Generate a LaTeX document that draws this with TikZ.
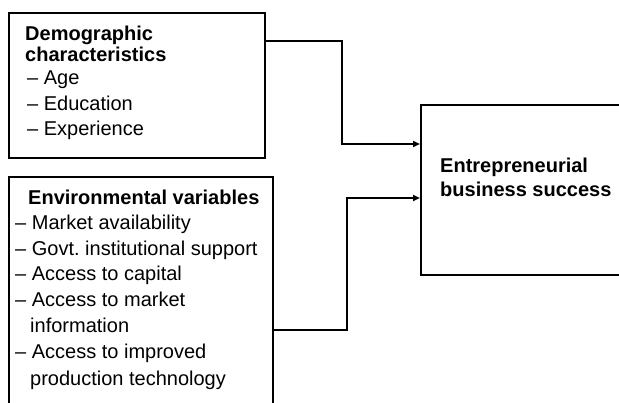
\documentclass[tikz,border=0pt]{standalone}
\usepackage{fontspec}
\setmainfont{Liberation Sans}
\usetikzlibrary{arrows.meta}
\frenchspacing
\begin{document}
\begin{tikzpicture}[x=1pt,y=-1pt,
  frame/.style={draw,line width=1.9pt},
  link/.style={line width=2.3pt,-{Triangle[length=7pt,width=6pt]}},
  txt/.style={anchor=base west,inner sep=0pt,font=\fontsize{20}{23}\selectfont},
  head/.style={txt,font=\fontsize{20}{23}\selectfont\bfseries}]
\useasboundingbox (0,0) rectangle (619,402);
\clip (0,0) rectangle (619,402);
% boxes
\coordinate (d1) at (9,13);   \coordinate (d2) at (265,158);
\draw[frame] (d1) rectangle (d2);
\coordinate (e1) at (9,177);  \coordinate (e2) at (273,420);
\draw[frame] (e1) rectangle (e2);
\coordinate (s1) at (421,105); \coordinate (s2) at (640,275);
\draw[frame] (s1) rectangle (s2);
% texts of the first box
\node[head] (dh1) at (25,40) {Demographic};
\node[head] (dh2) at (25,61) {characteristics};
\node[txt] (da) at (27,84) {– Age};
\node[txt] (db) at (27,110) {– Education};
\node[txt] (dc) at (27,135) {– Experience};
% texts of the second box
\node[head] (eh) at (28,204) {Environmental variables};
\node[txt] (ea) at (15,229) {– Market availability};
\node[txt] (eb) at (15,255) {– Govt. institutional support};
\node[txt] (ec) at (15,280) {– Access to capital};
\node[txt] (ed) at (15,306) {– Access to market};
\node[txt] (ed2) at (30,332) {information};
\node[txt] (ee) at (15,358) {– Access to improved};
\node[txt] (ee2) at (30,385) {production technology};
% outcome text
\node[head] (sh1) at (440,172) {Entrepreneurial};
\node[head] (sh2) at (440,196) {business success};
% connectors
\coordinate (p1) at (265,41);
\coordinate (q1) at (420,144);
\coordinate (p2) at (273,330);
\coordinate (q2) at (420,198);
\draw[link] (p1) -| (342,144) -- (q1);
\draw[link] (p2) -| (347,198) -- (q2);
\end{tikzpicture}
\end{document}
